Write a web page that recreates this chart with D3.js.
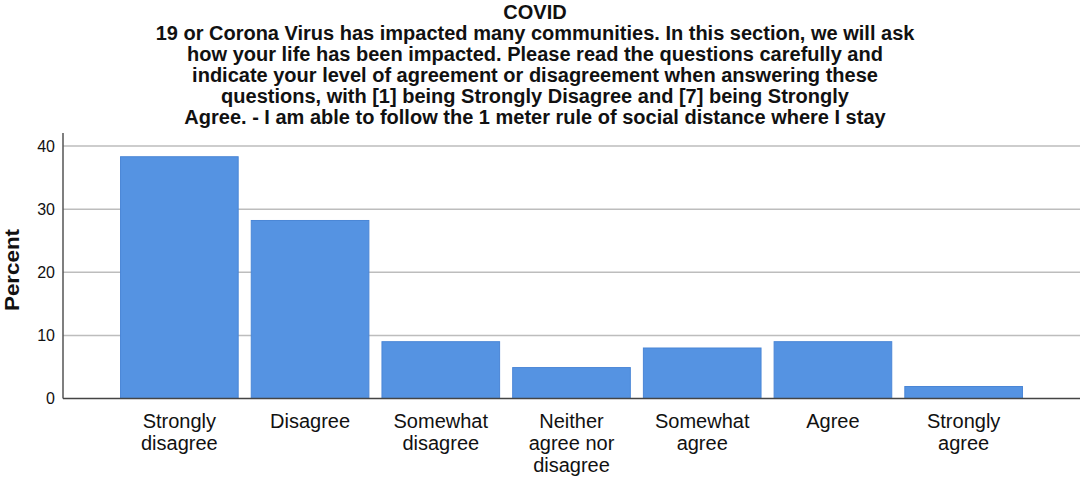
<!DOCTYPE html>
<html>
<head>
<meta charset="utf-8">
<script src="https://cdn.jsdelivr.net/npm/d3@7"></script>
<style>
  body { margin: 0; background: #fff; }
  text { font-family: "Liberation Sans", Arial, sans-serif; fill: #111; }
</style>
</head>
<body>
<svg id="chart" width="1084" height="477"></svg>
<script>
// chart data
var categories = ["Strongly disagree", "Disagree", "Somewhat disagree", "Neither agree nor disagree", "Somewhat agree", "Agree", "Strongly agree"];
var catLines = [["Strongly", "disagree"], ["Disagree"], ["Somewhat", "disagree"], ["Neither", "agree nor", "disagree"], ["Somewhat", "agree"], ["Agree"], ["Strongly", "agree"]];
var percents = [38.3, 28.2, 9.0, 4.9, 8.0, 9.0, 1.9];
var yTicks = [0, 10, 20, 30, 40];
var titleLines = [
  "COVID",
  "19 or Corona Virus has impacted many communities. In this section, we will ask",
  "how your life has been impacted. Please read the questions carefully and",
  "indicate your level of agreement or disagreement when answering these",
  "questions, with [1] being Strongly Disagree and [7] being Strongly",
  "Agree. - I am able to follow the 1 meter rule of social distance where I stay"
];

var svg = d3.select("#chart");

var x = d3.scaleBand()
  .domain(categories)
  .range([114, 1029])
  .paddingInner(0.1)
  .paddingOuter(0.05);

var y = d3.scaleLinear()
  .domain([0, 40])
  .range([398.5, 146]);

// title
svg.append("g").selectAll("text")
  .data(titleLines)
  .enter()
  .append("text")
  .attr("x", 535)
  .attr("y", (d, i) => 19 + i * 21)
  .attr("text-anchor", "middle")
  .attr("font-size", 20)
  .attr("font-weight", "bold")
  .text(d => d);

// gridlines
svg.append("g").selectAll("line")
  .data(yTicks.filter(t => t > 0))
  .enter()
  .append("line")
  .attr("x1", 63)
  .attr("x2", 1080)
  .attr("y1", d => y(d))
  .attr("y2", d => y(d))
  .attr("stroke", "#bdbdbd")
  .attr("stroke-width", 1.5);

// bars
svg.append("g").selectAll("rect")
  .data(percents)
  .enter()
  .append("rect")
  .attr("x", (d, i) => x(categories[i]))
  .attr("y", d => y(d))
  .attr("width", x.bandwidth())
  .attr("height", d => y(0) - y(d))
  .attr("fill", "#5593e2")
  .attr("stroke", "#4a86d6")
  .attr("stroke-width", 1);

// y axis
var yAxis = svg.append("g")
  .attr("transform", "translate(63,0)")
  .call(d3.axisLeft(y).tickValues(yTicks).tickSize(0).tickPadding(8));
yAxis.select(".domain").remove();
yAxis.selectAll("text")
  .attr("font-size", 16)
  .attr("font-family", "Liberation Sans, Arial, sans-serif")
  .attr("fill", "#111");

svg.append("line")
  .attr("x1", 63).attr("x2", 63)
  .attr("y1", 133).attr("y2", 398.5)
  .attr("stroke", "#555").attr("stroke-width", 1.5);

// x axis
svg.append("line")
  .attr("x1", 63).attr("x2", 1080)
  .attr("y1", 398.5).attr("y2", 398.5)
  .attr("stroke", "#444").attr("stroke-width", 1.5);

// category labels
var labels = svg.append("g").selectAll("text")
  .data(catLines)
  .enter()
  .append("text")
  .attr("text-anchor", "middle")
  .attr("font-size", 20)
  .attr("x", (d, i) => x(categories[i]) + x.bandwidth() / 2);

labels.selectAll("tspan")
  .data(d => d)
  .enter()
  .append("tspan")
  .attr("x", function() { return d3.select(this.parentNode).attr("x"); })
  .attr("y", (d, j) => 428 + j * 22)
  .text(d => d);

// y axis title
svg.append("text")
  .attr("transform", "translate(19,270) rotate(-90)")
  .attr("text-anchor", "middle")
  .attr("font-size", 20)
  .attr("font-weight", "bold")
  .attr("textLength", 82)
  .attr("lengthAdjust", "spacingAndGlyphs")
  .text("Percent");
</script>
</body>
</html>
